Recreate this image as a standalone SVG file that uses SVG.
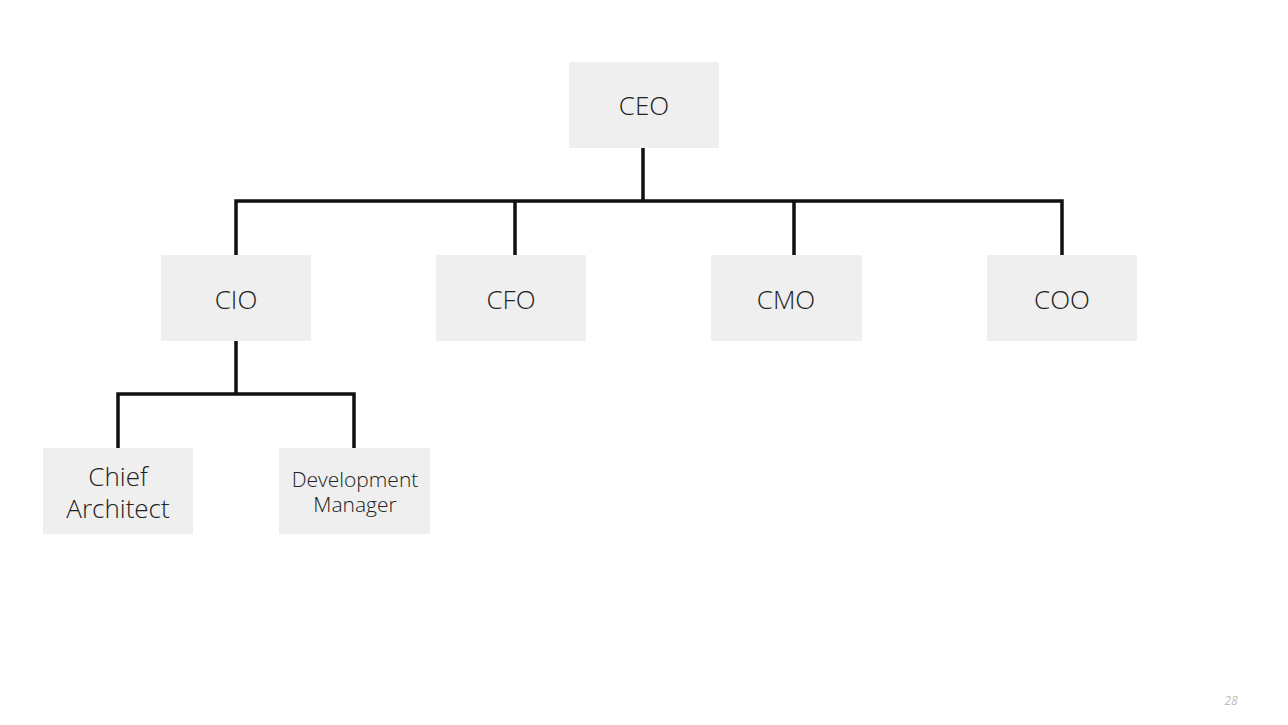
<svg xmlns="http://www.w3.org/2000/svg" width="1288" height="725" viewBox="0 0 1288 725">
<style>
.box{fill:#efefef}
.lbl{font-family:"Open Sans","Liberation Sans",sans-serif;font-weight:300;fill:#222;text-anchor:middle}
.l26{font-size:26px}
.l21{font-size:21px}
.conn{stroke:#111;stroke-width:3.5;fill:none;stroke-linecap:square}
</style>
<rect width="1288" height="725" fill="#ffffff"/>
<g id="connectors">
<path class="conn" d="M643,149 V201 M236,201 H1062 M236,201 V254 M515,201 V254 M794,201 V254 M1062,201 V254"/>
<path class="conn" d="M236,342 V394 M118,394 H354 M118,394 V447 M354,394 V447"/>
</g>
<g id="ceo"><rect class="box" x="569" y="62" width="150" height="86"/><text class="lbl l26" x="644" y="115">CEO</text></g>
<g id="cio"><rect class="box" x="161" y="255" width="150" height="86"/><text class="lbl l26" x="236" y="309">CIO</text></g>
<g id="cfo"><rect class="box" x="436" y="255" width="150" height="86"/><text class="lbl l26" x="511" y="309">CFO</text></g>
<g id="cmo"><rect class="box" x="711" y="255" width="151" height="86"/><text class="lbl l26" x="786" y="309">CMO</text></g>
<g id="coo"><rect class="box" x="987" y="255" width="150" height="86"/><text class="lbl l26" x="1062" y="309">COO</text></g>
<g id="chief-architect"><rect class="box" x="43" y="448" width="150" height="86"/><text class="lbl l26" x="118" y="486">Chief</text><text class="lbl l26" x="118" y="518">Architect</text></g>
<g id="development-manager"><rect class="box" x="279" y="448" width="151" height="86"/><text class="lbl l21" x="355" y="487">Development</text><text class="lbl l21" x="355" y="512">Manager</text></g>
<text x="1231" y="705" font-family="'Open Sans','Liberation Sans',sans-serif" font-style="italic" font-size="12" fill="#bbbbbb" text-anchor="middle">28</text>
</svg>
